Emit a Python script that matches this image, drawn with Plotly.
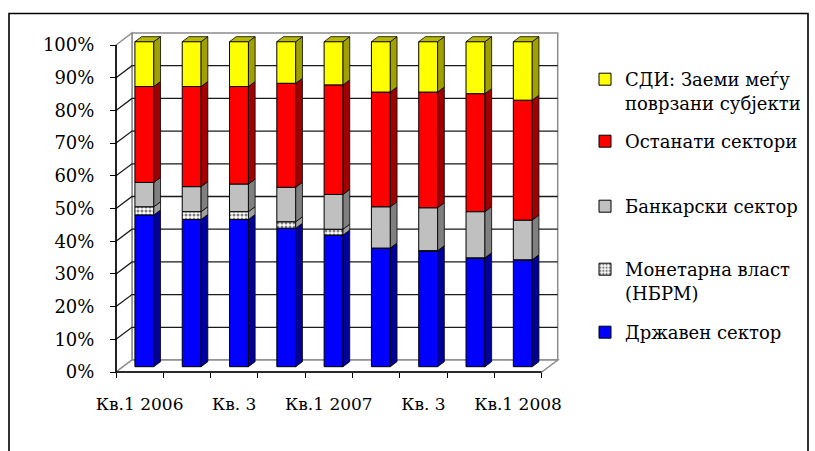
import plotly.graph_objects as go

# ---------------- data (shares in %) ----------------
quarters = ["Кв.1 2006", "Кв. 2", "Кв. 3", "Кв. 4",
            "Кв.1 2007", "Кв. 2", "Кв. 3", "Кв. 4", "Кв.1 2008"]
state = [46.7, 45.3, 45.3, 42.6, 40.5, 36.4, 35.6, 33.4, 32.8]        # Државен сектор
monetary = [2.5, 2.4, 2.4, 2.0, 1.8, 0.1, 0.1, 0.1, 0.1]             # Монетарна власт (НБРМ)
banking = [7.5, 7.7, 8.5, 10.6, 10.7, 12.7, 13.2, 14.2, 12.2]        # Банкарски сектор
other = [29.5, 30.8, 30.0, 32.0, 33.7, 35.3, 35.6, 36.3, 36.9]       # Останати сектори
fdi = [13.8, 13.8, 13.8, 12.8, 13.3, 15.5, 15.5, 16.0, 18.0]         # СДИ: Заеми меѓу поврзани субјекти
y_ticks = list(range(0, 101, 10))
y_tick_labels = [f"{v}%" for v in y_ticks]

# ---------------- geometry (pixel layout of the pseudo-3D frame) ----------------
FW, FH = 815, 451
X0PX, PXX = 116.0, 47.3      # px of x=-0.5, px per category
Y0PX, PXY = 372.0, 3.27      # px of 0 %, px per percent
PAD = 4.0
DX, DY = 16 / PXX, 12 / PXY          # wall depth offset (data units)
BDX, BDY = 6.7 / PXX, 5.0 / PXY      # bar depth offset
BAR_W, BAR_SHIFT = 0.40, 0.10
BAR_BASE, BAR_SCALE = 1.62, 0.994
n = len(quarters)

xr = [-0.5 - PAD / PXX, n - 0.5 + DX + PAD / PXX]
yr = [-PAD / PXY, 100 + DY + PAD / PXY]
ml = round(X0PX - PAD)
pw = round((xr[1] - xr[0]) * PXX)
mr = FW - ml - pw
mb = round(FH - (Y0PX + PAD))
ph = round((yr[1] - yr[0]) * PXY)
mt = FH - mb - ph
xr[1] = xr[0] + pw / PXX
yr[1] = yr[0] + ph / PXY


def px2paper_x(px):
    return (px - ml) / pw


def px2paper_y(py):
    return (FH - mb - py) / ph


FONT = "DejaVu Serif"

series = [
    dict(name="Државен сектор", vals=state, front="#0000FF", side="#00009A", pattern=None),
    dict(name="Монетарна власт<br>(НБРМ)", vals=monetary, front="#FFFFFF", side="#A0A0A0",
         pattern=dict(shape=".", fgcolor="#000000", bgcolor="#FFFFFF", size=4, solidity=0.45)),
    dict(name="Банкарски сектор", vals=banking, front="#C0C0C0", side="#808080", pattern=None),
    dict(name="Останати сектори", vals=other, front="#FF0000", side="#A00000", pattern=None),
    dict(name="СДИ: Заеми меѓу<br>поврзани субјекти", vals=fdi, front="#FFFF00", side="#A0A000", pattern=None),
]
legend_rows_px = [333, 270, 207, 142, 80]   # symbol centre (first text line) of each entry

fig = go.Figure()

totals = [sum(s["vals"][i] for s in series) for i in range(n)]
cum = [0.0] * n
xpos = [i + BAR_SHIFT for i in range(n)]
side_traces = []
for k, s in enumerate(series):
    share = [100.0 * s["vals"][i] / totals[i] for i in range(n)]
    lo = [BAR_BASE + BAR_SCALE * cum[i] for i in range(n)]
    hgt = [BAR_SCALE * share[i] for i in range(n)]
    marker = dict(color=s["front"], line=dict(color="#000000", width=1))
    if s["pattern"]:
        marker["pattern"] = s["pattern"]
    lg = "legend" if k == 0 else f"legend{k + 1}"
    fig.add_trace(go.Bar(
        x=xpos, y=hgt, base=lo, width=BAR_W, name=s["name"], marker=marker,
        legend=lg, hoverinfo="skip",
    ))
    xs, ys = [], []
    for i in range(n):
        xrgt = xpos[i] + BAR_W / 2
        a, b = lo[i], lo[i] + hgt[i]
        xs += [xrgt, xrgt + BDX, xrgt + BDX, xrgt, xrgt, None]
        ys += [a, a + BDY, b + BDY, b, a, None]
    side_traces.append(go.Scatter(
        x=xs, y=ys, mode="lines", fill="toself", fillcolor=s["side"],
        line=dict(color="#000000", width=0.8), showlegend=False, hoverinfo="skip"))
    cum = [cum[i] + share[i] for i in range(n)]

xs, ys = [], []
for i in range(n):
    t = BAR_BASE + BAR_SCALE * cum[i]
    xl, xrgt = xpos[i] - BAR_W / 2, xpos[i] + BAR_W / 2
    xs += [xl, xrgt, xrgt + BDX, xl + BDX, xl, None]
    ys += [t, t, t + BDY, t + BDY, t, None]
side_traces.append(go.Scatter(
    x=xs, y=ys, mode="lines", fill="toself", fillcolor="#B8B800",
    line=dict(color="#000000", width=0.8), showlegend=False, hoverinfo="skip"))
for tr in side_traces:
    fig.add_trace(tr)

# ---------------- walls, floor and gridlines ----------------
xa, xb = -0.5, n - 0.5
shapes = []
wall_line = dict(color="#8C8C8C", width=1.5)
shapes.append(dict(type="path", xref="x", yref="y", layer="below",
                   path=f"M{xa + DX},{DY} L{xb + DX},{DY} L{xb + DX},{100 + DY} L{xa + DX},{100 + DY} Z",
                   fillcolor="white", line=wall_line))
shapes.append(dict(type="path", xref="x", yref="y", layer="below",
                   path=f"M{xa},0 L{xa},100 L{xa + DX},{100 + DY} L{xa + DX},{DY} Z",
                   fillcolor="white", line=wall_line))
shapes.append(dict(type="path", xref="x", yref="y", layer="below",
                   path=f"M{xa},0 L{xb},0 L{xb + DX},{DY} L{xa + DX},{DY} Z",
                   fillcolor="white", line=wall_line))
grid_path = ""
for v in y_ticks[1:-1]:
    grid_path += f"M{xa},{v} L{xa + DX},{v + DY} L{xb + DX},{v + DY} "
shapes.append(dict(type="path", xref="x", yref="y", layer="below",
                   path=grid_path, fillcolor="rgba(0,0,0,0)",
                   line=dict(color="#1A1A1A", width=1.3)))
shapes.append(dict(type="path", xref="x", yref="y", layer="above",
                   path=f"M{xa},100 L{xa},0 L{xb},0", fillcolor="rgba(0,0,0,0)",
                   line=dict(color="#000000", width=1.6)))
shapes.append(dict(type="rect", xref="paper", yref="paper",
                   x0=px2paper_x(9), x1=px2paper_x(808), y0=px2paper_y(470), y1=px2paper_y(13.5),
                   line=dict(color="#000000", width=1.6), fillcolor="rgba(0,0,0,0)"))

layout_legends = {}
for k, py in enumerate(legend_rows_px):
    key = "legend" if k == 0 else f"legend{k + 1}"
    layout_legends[key] = dict(
        x=px2paper_x(585), y=px2paper_y(py - 19), xanchor="left", yanchor="top",
        bgcolor="rgba(0,0,0,0)", borderwidth=0, valign="top", itemwidth=30,
        font=dict(family=FONT, size=18, color="#000000"), itemclick=False,
    )

fig.update_layout(
    width=FW, height=FH,
    margin=dict(l=ml, r=mr, t=mt, b=mb, pad=0, autoexpand=False),
    paper_bgcolor="white", plot_bgcolor="white",
    barmode="overlay", showlegend=True,
    font=dict(family=FONT, size=17, color="#000000"),
    shapes=shapes,
    xaxis=dict(range=xr, anchor="free", position=PAD / ph, automargin=False,
               tickmode="array", tickvals=[i - 0.5 for i in range(n + 1)],
               showticklabels=False, ticks="outside", ticklen=5, tickwidth=1.3,
               tickcolor="#000000", showgrid=False, zeroline=False, showline=False,
               fixedrange=True),
    xaxis2=dict(range=xr, overlaying="x", anchor="free", position=PAD / ph, side="bottom",
                automargin=False,
                tickmode="array", tickvals=list(range(0, n, 2)), ticktext=quarters[0::2],
                ticks="", ticklabelstandoff=20, showgrid=False, zeroline=False,
                showline=False, fixedrange=True,
                tickfont=dict(family=FONT, size=17, color="#000000")),
    yaxis=dict(range=yr, anchor="free", position=PAD / pw, automargin=False,
               tickmode="array", tickvals=y_ticks, ticktext=y_tick_labels,
               ticks="outside", ticklen=6, tickwidth=1.3, tickcolor="#000000",
               ticklabelstandoff=12, showgrid=False, zeroline=False, showline=False,
               fixedrange=True, tickfont=dict(family=FONT, size=18, color="#000000")),
    **layout_legends,
)
fig.add_trace(go.Scatter(x=[xr[0]], y=[yr[0]], xaxis="x2", mode="markers",
                         marker=dict(opacity=0), showlegend=False, hoverinfo="skip"))

fig.write_html(
    "out.html",
    config={"displayModeBar": False, "staticPlot": False},
    post_script="document.body.style.margin='0';document.body.style.overflow='hidden';",
)
